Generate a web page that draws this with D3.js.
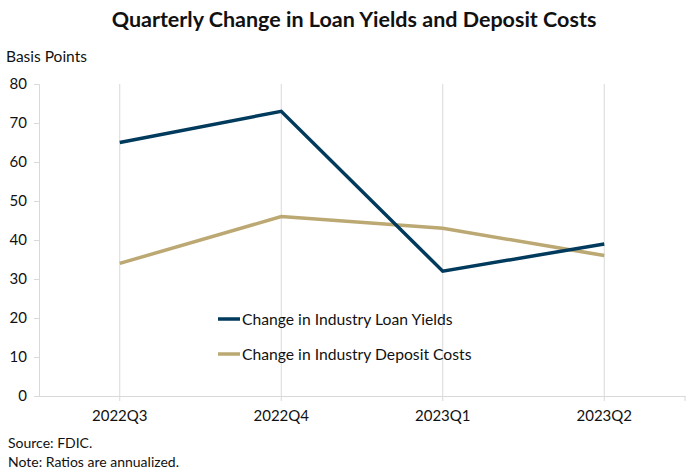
<!DOCTYPE html>
<meta charset="utf-8">
<script src="https://d3js.org/d3.v7.min.js"></script>
<style>
  body { margin: 0; background: #fff; }
  text { font-family: Lato, "Open Sans", sans-serif; fill: #111; }
</style>
<div id="chart"></div>
<script>
// data
var quarters = ["2022Q3", "2022Q4", "2023Q1", "2023Q2"];
var loanYields = [65, 73, 32, 39];
var depositCosts = [34, 46, 43, 36];
var yTicks = [0, 10, 20, 30, 40, 50, 60, 70, 80];

var W = 700, H = 476;
var margin = {top: 84, right: 15, bottom: 80, left: 39};
var width = W - margin.left - margin.right,
    height = H - margin.top - margin.bottom;

var svg = d3.select("#chart").append("svg")
    .attr("width", W).attr("height", H);

svg.append("text")
    .attr("x", 354).attr("y", 27)
    .attr("text-anchor", "middle")
    .style("font-weight", "bold").style("font-size", "21.5px")
    .text("Quarterly Change in Loan Yields and Deposit Costs");

svg.append("text")
    .attr("x", 6).attr("y", 62)
    .style("font-size", "15.5px")
    .text("Basis Points");

var g = svg.append("g")
    .attr("transform", "translate(" + margin.left + "," + margin.top + ")");

var x = d3.scaleBand().domain(quarters).range([0, width]);
var y = d3.scaleLinear().domain([0, 80]).range([height, 0]);

// vertical gridlines at category centres
g.selectAll(".grid").data(quarters).enter().append("line")
    .attr("x1", d => x(d) + x.bandwidth() / 2)
    .attr("x2", d => x(d) + x.bandwidth() / 2)
    .attr("y1", 0).attr("y2", height + 5)
    .attr("stroke", "#d9d9d9").attr("stroke-width", 1);

// y axis
var yAxis = g.append("g")
    .call(d3.axisLeft(y).tickValues(yTicks).tickSize(5).tickPadding(7));
yAxis.select(".domain").attr("stroke", "#d9d9d9");
yAxis.selectAll(".tick line").attr("stroke", "#d9d9d9");
yAxis.selectAll("text").style("font-size", "15px").attr("fill", "#111");

// x axis with ticks on category boundaries
var xAxis = g.append("g")
    .attr("transform", "translate(0," + height + ")")
    .call(d3.axisBottom(x).tickSize(0).tickPadding(14));
xAxis.select(".domain").attr("stroke", "#d9d9d9");
xAxis.selectAll("text").style("font-size", "15px").attr("fill", "#111");
g.append("line")
    .attr("x1", width).attr("x2", width)
    .attr("y1", height).attr("y2", height + 5)
    .attr("stroke", "#d9d9d9");

var line = d3.line()
    .x((d, i) => x(quarters[i]) + x.bandwidth() / 2)
    .y(d => y(d));

var series = [
  {name: "Change in Industry Loan Yields", values: loanYields, color: "#003a5d"},
  {name: "Change in Industry Deposit Costs", values: depositCosts, color: "#bba872"}
];

series.slice().reverse().forEach(function(s) {
  g.append("path")
      .datum(s.values)
      .attr("fill", "none")
      .attr("stroke", s.color)
      .attr("stroke-width", 3.5)
      .attr("d", line);
});

// legend
var legend = svg.append("g").attr("transform", "translate(218,319)");
series.forEach(function(s, i) {
  var row = legend.append("g").attr("transform", "translate(0," + i * 35 + ")");
  row.append("line").attr("x1", 0).attr("x2", 22)
      .attr("stroke", s.color).attr("stroke-width", 3.5);
  row.append("text").attr("x", 24).attr("dy", "0.35em")
      .style("font-size", "15.7px").text(s.name);
});

svg.append("text").attr("x", 8).attr("y", 448)
    .style("font-size", "14px").text("Source: FDIC.");
svg.append("text").attr("x", 8).attr("y", 467)
    .style("font-size", "14px").text("Note: Ratios are annualized.");
</script>
